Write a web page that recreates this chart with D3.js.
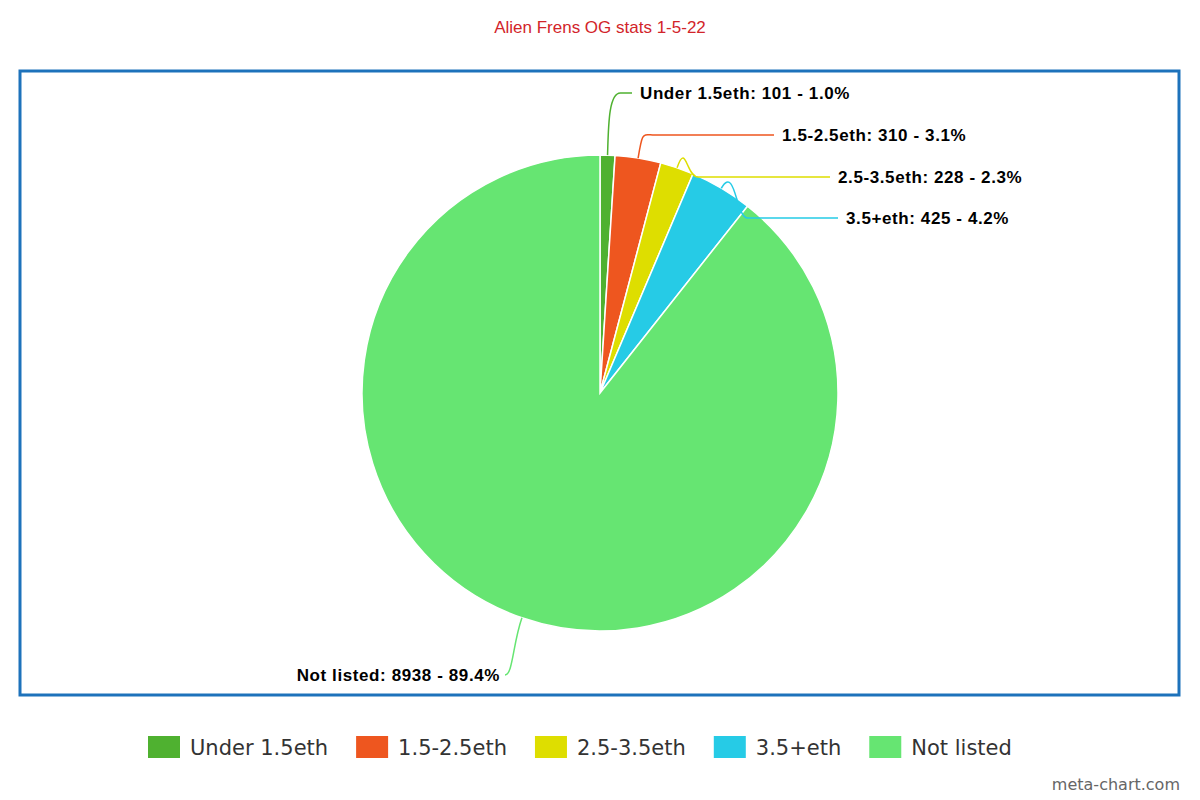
<!DOCTYPE html>
<html><head><meta charset="utf-8">
<script src="https://cdn.jsdelivr.net/npm/d3@7"></script>
<style>body{margin:0;background:#fff}svg{display:block}</style>
</head><body>
<svg id="chart" width="1200" height="800"></svg>
<script>
const categories = ["Under 1.5eth", "1.5-2.5eth", "2.5-3.5eth", "3.5+eth", "Not listed"];
const counts = [101, 310, 228, 425, 8938];
const percents = ["1.0%", "3.1%", "2.3%", "4.2%", "89.4%"];
const colors = ["#4fb130", "#ee561f", "#dede00", "#26cbe6", "#66e572"];

// label anchor points (layout only)
const labelPos = [[640, 98, "start"], [782, 140, "start"], [838, 182, "start"], [846, 223, "start"], [500, 680, "end"]];

const svg = d3.select("#chart");
const cx = 600, cy = 393, r = 238;

svg.append("text").attr("x", 600).attr("y", 33).attr("text-anchor", "middle")
  .attr("font-family", "Liberation Sans, Arial").attr("font-size", 17).attr("fill", "#d2242a")
  .text("Alien Frens OG stats 1-5-22");

svg.append("rect").attr("x", 20).attr("y", 71).attr("width", 1159).attr("height", 624)
  .attr("fill", "none").attr("stroke", "#1d72bb").attr("stroke-width", 3);

const pie = d3.pie().sort(null).value(d => d)(counts);
const arc = d3.arc().innerRadius(0).outerRadius(r);
const g = svg.append("g").attr("transform", `translate(${cx},${cy})`);

g.selectAll("path.slice").data(pie).enter().append("path")
  .attr("d", arc).attr("fill", (d, i) => colors[i])
  .attr("stroke", "#fff").attr("stroke-width", 1.5);

// leader lines
pie.forEach((d, i) => {
  const a = (d.startAngle + d.endAngle) / 2;
  const sx = cx + Math.sin(a) * r, sy = cy - Math.cos(a) * r;
  const bx = cx + Math.sin(a) * (r + 28), by = cy - Math.cos(a) * (r + 28);
  const [lx, ly, anchor] = labelPos[i];
  const ex = anchor === "start" ? lx - 8 : lx + 5;
  const ey = ly - 5;
  const p = d3.path();
  p.moveTo(sx, sy);
  p.bezierCurveTo(bx, by, bx, ey, (bx + ex) / 2 > ex ? ex : bx + 12 * (anchor === "start" ? 1 : -1), ey);
  p.lineTo(ex, ey);
  svg.append("path").attr("d", p.toString()).attr("fill", "none")
    .attr("stroke", colors[i]).attr("stroke-width", 1.5);
  svg.append("text").attr("x", lx).attr("y", ly + 1).attr("text-anchor", anchor)
    .attr("font-family", "Liberation Sans, Arial").attr("font-weight", "bold")
    .attr("font-size", 17).attr("fill", "#000").attr("letter-spacing", 0.6)
    .text(`${categories[i]}: ${counts[i]} - ${percents[i]}`);
});

// legend
const legend = svg.append("g");
let x = 148;
categories.forEach((c, i) => {
  legend.append("rect").attr("x", x).attr("y", 736).attr("width", 32).attr("height", 22).attr("fill", colors[i]);
  const t = legend.append("text").attr("x", x + 42).attr("y", 755)
    .attr("font-family", "DejaVu Sans").attr("font-size", 21).attr("fill", "#333").text(c);
  x += 42 + t.node().getComputedTextLength() + 28;
});

svg.append("text").attr("x", 1180).attr("y", 790).attr("text-anchor", "end")
  .attr("font-family", "DejaVu Sans").attr("font-size", 16).attr("fill", "#666").text("meta-chart.com");
</script>
</body></html>
